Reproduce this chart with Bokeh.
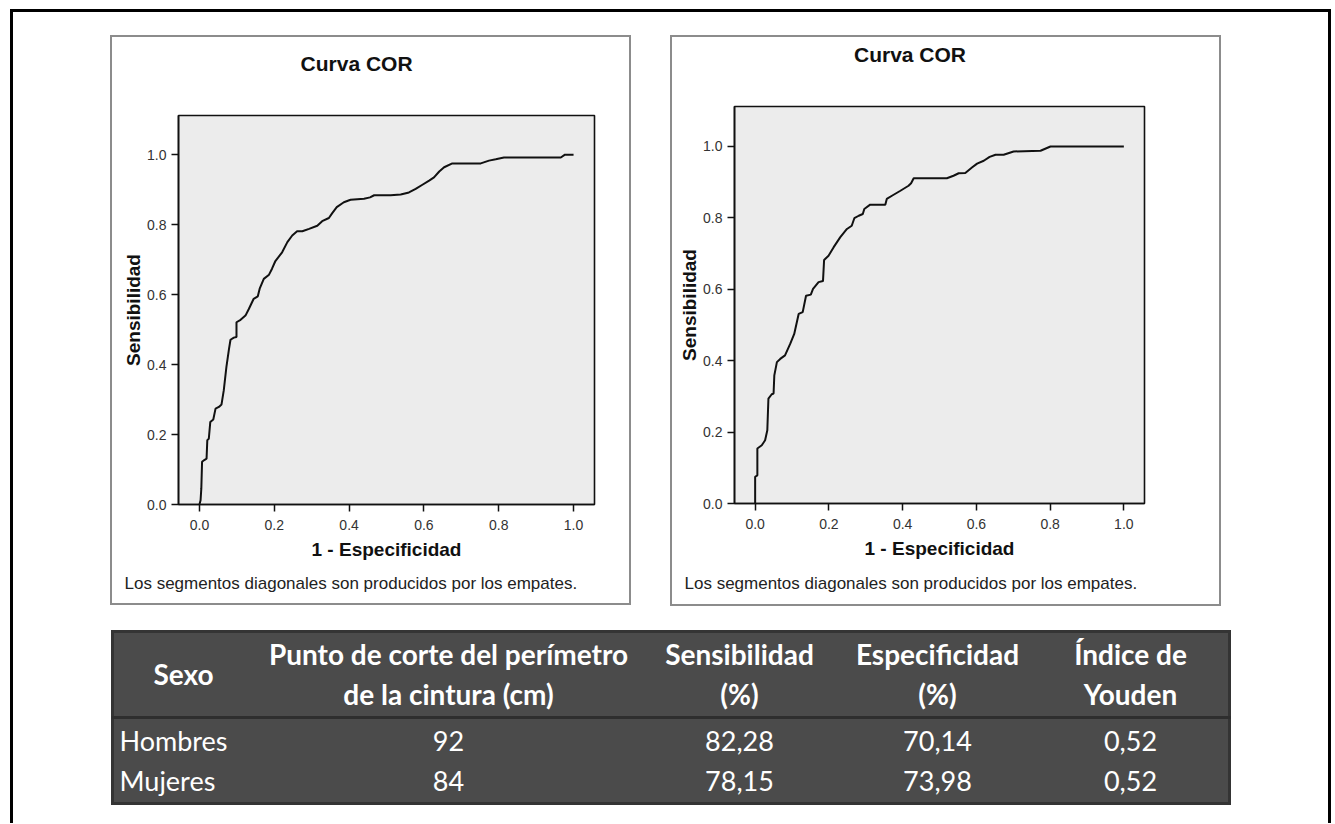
from bokeh.plotting import figure
from bokeh.models import Range1d, Title, LinearAxis, PrintfTickFormatter, Spacer
from bokeh.layouts import row, column
from bokeh.embed import file_html
from bokeh.resources import INLINE
from bokeh.core.properties import value

# ---------------- data ----------------
fpr_hombres = [0.000, 0.003, 0.005, 0.007, 0.013, 0.019, 0.021, 0.025, 0.029, 0.037, 0.043,
               0.052, 0.059, 0.065, 0.072, 0.079, 0.083, 0.092, 0.099, 0.099, 0.110, 0.123,
               0.132, 0.145, 0.156, 0.161, 0.172, 0.186, 0.194, 0.203, 0.221, 0.235, 0.248,
               0.261, 0.275, 0.293, 0.315, 0.328, 0.346, 0.355, 0.367, 0.386, 0.404, 0.440,
               0.456, 0.467, 0.511, 0.538, 0.560, 0.578, 0.596, 0.614, 0.627, 0.641, 0.654,
               0.676, 0.752, 0.774, 0.792, 0.814, 0.966, 0.977, 1.000]
tpr_hombres = [0.000, 0.012, 0.046, 0.122, 0.127, 0.131, 0.184, 0.188, 0.236, 0.243, 0.274,
               0.279, 0.286, 0.326, 0.393, 0.445, 0.471, 0.477, 0.479, 0.521, 0.528, 0.540,
               0.559, 0.588, 0.595, 0.617, 0.645, 0.657, 0.674, 0.696, 0.721, 0.750, 0.769,
               0.781, 0.781, 0.788, 0.797, 0.810, 0.819, 0.833, 0.850, 0.864, 0.871, 0.874,
               0.878, 0.884, 0.884, 0.886, 0.892, 0.902, 0.914, 0.926, 0.935, 0.952, 0.964,
               0.975, 0.975, 0.983, 0.987, 0.992, 0.992, 1.000, 1.000]

fpr_mujeres = [0.000, 0.000, 0.006, 0.006, 0.018, 0.027, 0.033, 0.036, 0.045, 0.050, 0.052,
               0.059, 0.068, 0.081, 0.095, 0.106, 0.118, 0.129, 0.138, 0.151, 0.157, 0.172,
               0.184, 0.187, 0.199, 0.213, 0.231, 0.249, 0.262, 0.269, 0.281, 0.292, 0.296,
               0.312, 0.353, 0.357, 0.371, 0.394, 0.416, 0.423, 0.430, 0.520, 0.538, 0.552,
               0.570, 0.588, 0.602, 0.620, 0.636, 0.652, 0.674, 0.701, 0.774, 0.801, 1.000]
tpr_mujeres = [0.000, 0.075, 0.079, 0.154, 0.163, 0.177, 0.205, 0.294, 0.306, 0.308, 0.359,
               0.396, 0.405, 0.415, 0.447, 0.475, 0.531, 0.536, 0.582, 0.585, 0.601, 0.620,
               0.623, 0.682, 0.694, 0.718, 0.746, 0.769, 0.778, 0.799, 0.806, 0.811, 0.825,
               0.837, 0.837, 0.853, 0.862, 0.876, 0.890, 0.897, 0.911, 0.911, 0.918, 0.925,
               0.926, 0.941, 0.952, 0.960, 0.971, 0.977, 0.977, 0.986, 0.988, 1.000, 1.000]

axis_ticks = [0.0, 0.2, 0.4, 0.6, 0.8, 1.0]
chart_title = "Curva COR"
title_position = 0.42  # where SPSS centres the title, in x-axis units
x_label = "1 - Especificidad"
y_label = "Sensibilidad"
footnote = "Los segmentos diagonales son producidos por los empates."

header_line1 = ["Punto de corte del perímetro", "Sensibilidad", "Especificidad", "Índice de"]
header_line2 = ["de la cintura (cm)", "(%)", "(%)", "Youden"]
header_first = "Sexo"
sexo = ["Hombres", "Mujeres"]
punto_corte = [92, 84]
sensibilidad = [82.28, 78.15]
especificidad = [70.14, 73.98]
youden = [0.52, 0.52]

FONT = "Liberation Sans"
BW = 2  # panel border width


def roc_figure(fpr, tpr, width, height, bl, br, bt, bb,
               title_standoff, foot_standoff, foot_offset):
    p = figure(width=width, height=height,
               x_range=Range1d(-0.056, 1.056), y_range=Range1d(0, 1.112),
               output_backend="svg", toolbar_location=None,
               min_border_left=bl, min_border_right=br,
               min_border_top=bt, min_border_bottom=bb)
    p.background_fill_color = "#ececec"
    p.border_fill_color = "white"
    p.outline_line_color = "#111111"
    p.outline_line_width = 1.6
    p.grid.visible = False

    for ax in (p.xaxis, p.yaxis):
        ax.ticker = axis_ticks
        ax.formatter = PrintfTickFormatter(format="%.1f")
        ax.minor_tick_line_color = None
        ax.major_tick_in = 0
        ax.major_tick_out = 7
        ax.major_tick_line_color = "#111111"
        ax.major_tick_line_width = 1.5
        ax.axis_line_color = "#111111"
        ax.axis_line_width = 1.6
        ax.major_label_text_font = FONT
        ax.major_label_text_font_size = "14px"
        ax.major_label_text_color = "#333333"
        ax.axis_label_text_font = FONT
        ax.axis_label_text_font_size = "19px"
        ax.axis_label_text_font_style = "bold"
        ax.axis_label_text_color = "#111111"
    p.xaxis.axis_label = x_label
    p.yaxis.axis_label = y_label
    p.xaxis.major_label_standoff = 8
    p.xaxis.axis_label_standoff = 6
    p.yaxis.major_label_standoff = 5
    p.yaxis.axis_label_standoff = 0

    p.line(fpr, tpr, line_color="#111111", line_width=2)

    # chart title: the single label of an invisible axis above the frame,
    # placed at the title position
    title_axis = LinearAxis(ticker=[title_position],
                            major_label_overrides={title_position: chart_title},
                            major_tick_out=0, major_tick_in=0,
                            major_label_standoff=title_standoff,
                            axis_line_color=None, major_tick_line_color=None,
                            minor_tick_line_color=None,
                            major_label_text_font=FONT, major_label_text_font_size="21px",
                            major_label_text_font_style="bold",
                            major_label_text_color="#111111")
    p.add_layout(title_axis, "above")
    p.add_layout(Title(text=footnote, align="left", offset=foot_offset,
                       standoff=foot_standoff, text_font=FONT, text_font_size="17px",
                       text_font_style="normal", text_color="#222222"), "below")
    return p


def panel(p, w, h):
    return column(
        Spacer(width=w, height=BW),
        row(Spacer(width=BW, height=h - 2 * BW), p, Spacer(width=BW, height=h - 2 * BW)),
        Spacer(width=w, height=BW),
        styles={"box-shadow": f"inset 0 0 0 {BW}px #8c8c8c"})


p_left = roc_figure(fpr_hombres, tpr_hombres, 521 - 2 * BW, 570 - 2 * BW,
                    68 - BW, 37 - BW, 80 - BW, 101 - BW, 41, 19, -54)
p_right = roc_figure(fpr_mujeres, tpr_mujeres, 551 - 2 * BW, 571 - 2 * BW,
                     64 - BW, 77 - BW, 71 - BW, 103 - BW, 41, 21, -50)

# ---------------- table ----------------
TW, TH = 1120, 175
col_x = [337, 628, 826, 1019]
t = figure(width=TW, height=TH, x_range=Range1d(0, TW), y_range=Range1d(TH, 0),
           output_backend="svg", toolbar_location=None, min_border=0,
           x_axis_location=None, y_axis_location=None)
t.grid.visible = False
t.background_fill_color = "#4b4b4b"
t.border_fill_color = "#4b4b4b"
t.outline_line_color = "#343434"
t.outline_line_width = 5
t.segment(x0=[0], y0=[87], x1=[TW], y1=[87], line_color="#2e2e2e", line_width=3)

TFONT = value("Lato")
head_kw = dict(text_align="center", text_baseline="middle", text_color="white",
               text_font=TFONT, text_font_size="28px", text_font_style="bold")
t.text(x=[72], y=[43], text=[header_first], **head_kw)
t.text(x=col_x, y=[23] * 4, text=header_line1, **head_kw)
t.text(x=col_x, y=[63] * 4, text=header_line2, **head_kw)

row_y = [110, 150]
fmt = lambda v: f"{v:.2f}".replace(".", ",")
t.text(x=[8, 8], y=row_y, text=sexo, text_align="left", text_baseline="middle",
       text_color="white", text_font=TFONT, text_font_size="27px")
values = [[str(v) for v in punto_corte], [fmt(v) for v in sensibilidad],
          [fmt(v) for v in especificidad], [fmt(v) for v in youden]]
for cx, vals in zip(col_x, values):
    t.text(x=[cx, cx], y=row_y, text=vals, text_align="center", text_baseline="middle",
           text_color="white", text_font=TFONT, text_font_size="27px")
t.styles = {"outline": "1px solid #9a9a9a", "outline-offset": "-1px"}

# ---------------- layout ----------------
IW, IH = 1321, 814
top = row(Spacer(width=100, height=571), panel(p_left, 521, 570), Spacer(width=39, height=571),
          panel(p_right, 551, 571), Spacer(width=110, height=571))
bottom = row(Spacer(width=101, height=TH), t, Spacer(width=100, height=TH))
inner = column(Spacer(width=IW, height=26), top, Spacer(width=IW, height=24), bottom,
               Spacer(width=IW, height=IH - 26 - 571 - 24 - TH),
               styles={"box-shadow": "inset 3px 0 0 #000, inset -3px 0 0 #000, inset 0 3px 0 #000"})
page = column(Spacer(width=1331, height=9), row(Spacer(width=10, height=IH), inner))

open("out.html", "w").write(file_html(page, INLINE))
